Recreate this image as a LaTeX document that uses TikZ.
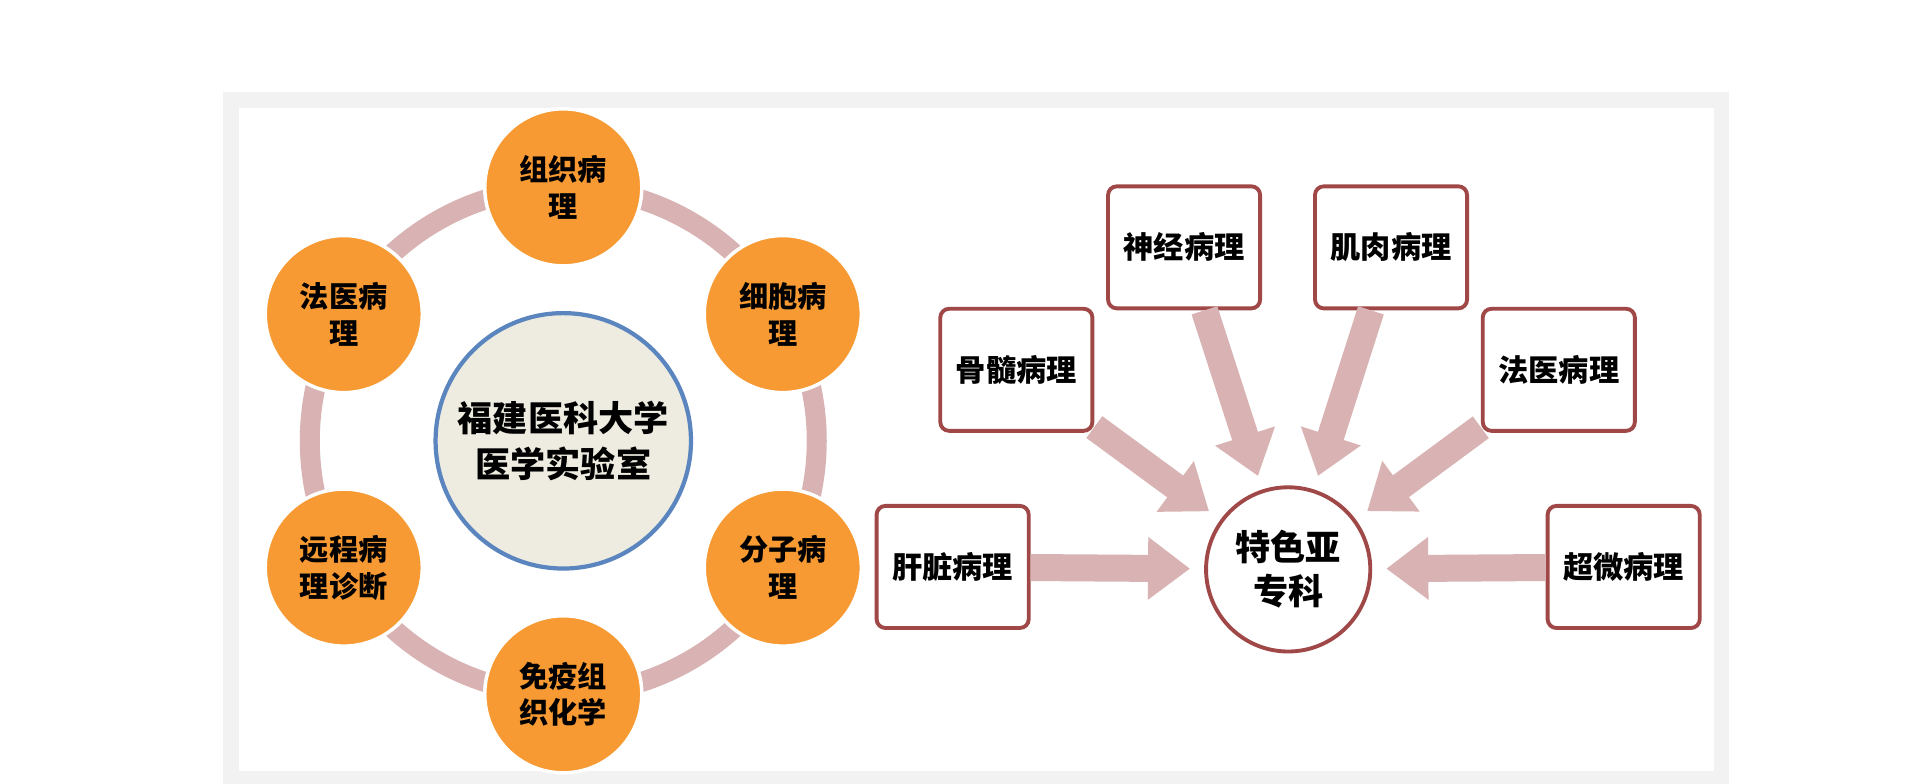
\documentclass[tikz,border=0pt]{standalone}
\usepackage{fontspec}
\setmainfont{Noto Sans CJK SC}
\usepackage{tikz}
\usetikzlibrary{arrows.meta}
\usetikzlibrary{calc}
\usetikzlibrary{positioning}
\definecolor{ringpink}{HTML}{D9B3B3}
\definecolor{orangefill}{HTML}{F79A33}
\definecolor{centerfill}{HTML}{EEECE1}
\definecolor{centerblue}{HTML}{5A85BE}
\definecolor{boxred}{HTML}{A04848}
\definecolor{framegray}{HTML}{F2F2F2}
\tikzset{
    field nodes/.style={
        circle,
        fill=orangefill,
        draw=white,
        line width=1pt,
        minimum size=1.57cm,
        inner sep=0pt,
        align=center,
        font=\fontsize{8.3}{10.5}\selectfont\bfseries
    },
    topic nodes/.style={
        draw=boxred,
        fill=white,
        line width=1.1pt,
        rounded corners=2.5pt,
        minimum width=1.52cm,
        minimum height=1.22cm,
        align=center,
        font=\fontsize{8.6}{10.5}\selectfont\bfseries
    },
    fat arrow/.style={
        draw=ringpink,
        line width=0.27cm,
        -{Triangle[length=0.42cm,width=0.6cm]},
        shorten >=4pt
    }
}
\begin{document}
\begin{tikzpicture}[x=0.012245cm,y=-0.012245cm]
            \useasboundingbox (0,0) rectangle (1568,640);
            \fill[framegray] (182,75) rectangle (1412,640);
            \fill[white] (195,88) rectangle (1400,630);
            % ring of lab fields
            \coordinate (O) at (460,360);
            \draw[ringpink,line width=0.2cm] (O) circle[radius=207];
            \node[circle,fill=centerfill,draw=centerblue,line width=1.2pt,minimum size=2.3cm,
                  align=center,font=\fontsize{10}{13}\selectfont\bfseries] (lab) at (O)
                  {福建医科大学\\医学实验室};
            \foreach \a/\n/\t in {-90/f1/组织病\\理, -30/f2/细胞病\\理, 30/f3/分子病\\理,
                                  90/f4/免疫组\\织化学, 150/f5/远程病\\理诊断, -150/f6/法医病\\理}
              \node[field nodes] (\n) at ($(O)+(\a:207)$) {\t};
            % subspecialties
            \node[circle,draw=boxred,fill=white,line width=1.1pt,minimum size=1.62cm,align=center,
                  font=\fontsize{10}{12.5}\selectfont\bfseries] (sub) at (1052,465) {特色亚\\专科};
            \node[topic nodes] (bone)   at (830,302)  {骨髓病理};
            \node[topic nodes] (nerve)  at (967,202)  {神经病理};
            \node[topic nodes] (muscle) at (1136,202) {肌肉病理};
            \node[topic nodes] (forens) at (1273,302) {法医病理};
            \node[topic nodes] (liver)  at (778,463)  {肝脏病理};
            \node[topic nodes] (ultra)  at (1326,463) {超微病理};
            \foreach \s in {bone,nerve,muscle,forens,liver,ultra}
              \draw[fat arrow] (\s) -- (sub);
          \end{tikzpicture}
\end{document}
